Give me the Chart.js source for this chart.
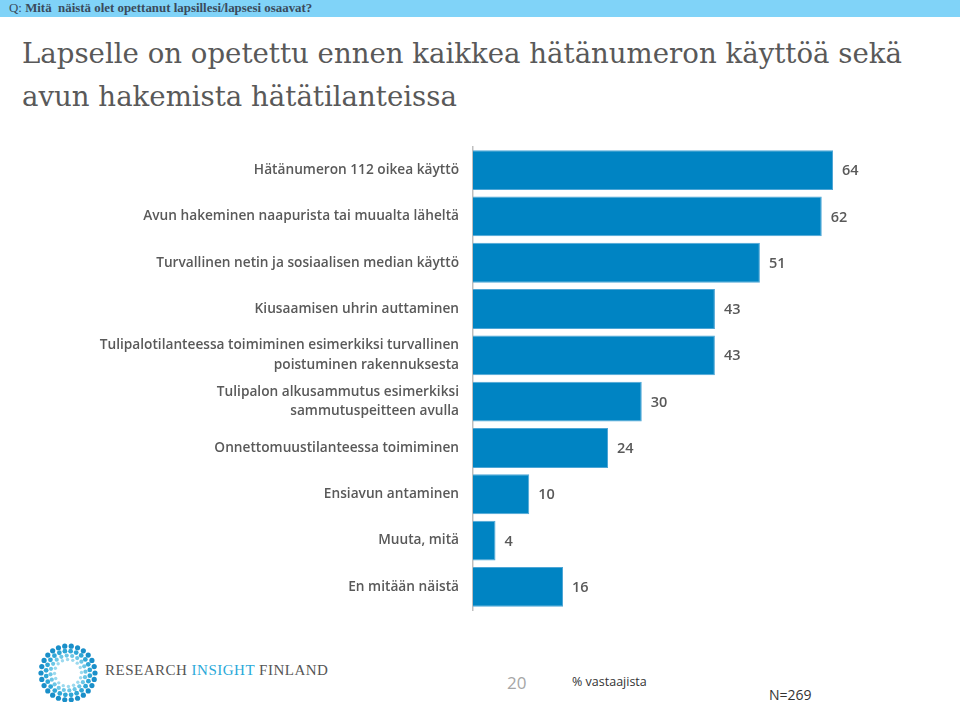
<!DOCTYPE html>
<html>
<head>
<meta charset="utf-8">
<script src="https://cdn.jsdelivr.net/npm/chart.js@4"></script>
<style>
  html, body { margin:0; padding:0; background:#fff; width:960px; height:702px; overflow:hidden; position:relative; font-family:"Open Sans", sans-serif; }
  #qbar { position:absolute; left:0; top:0; width:960px; height:17px; background:#80d3f8; }
  #qtext { position:absolute; left:9px; top:1px; font-family:"Liberation Serif", serif; font-size:12.9px; color:#3a4b5c; line-height:15px; white-space:nowrap; }
  #qtext b { font-weight:bold; }
  #title { position:absolute; left:22px; top:32px; font-family:"DejaVu Serif", serif; font-size:27.6px; line-height:43px; color:#595959; white-space:nowrap; }
  #chartbox { position:absolute; left:0; top:123px; width:960px; height:511px; }
  #brand { position:absolute; left:105px; top:662px; font-family:"Liberation Serif", serif; font-size:15px; letter-spacing:0.5px; color:#555; white-space:nowrap; }
  #brand span { color:#2aa9d9; }
  #n20 { position:absolute; left:507px; top:671px; font-family:"Open Sans", sans-serif; font-size:17px; color:#a6a6a6; }
  #pct { position:absolute; left:572px; top:673px; font-family:"Open Sans", sans-serif; font-size:12.5px; color:#333; white-space:nowrap; }
  #nn { position:absolute; left:769px; top:685px; font-family:"Open Sans", sans-serif; font-size:14px; color:#333; }
  #logo { position:absolute; left:38px; top:643px; }
</style>
</head>
<body>
<div id="qbar"></div>
<div id="qtext">Q: <b>Mitä&nbsp; näistä olet opettanut lapsillesi/lapsesi osaavat?</b></div>
<div id="title">Lapselle on opetettu ennen kaikkea hätänumeron käyttöä sekä<br>avun hakemista hätätilanteissa</div>
<div id="chartbox"><canvas id="c"></canvas></div>
<svg id="logo" width="60" height="60" viewBox="0 0 60 60"></svg>
<div id="brand">RESEARCH <span>INSIGHT</span> FINLAND</div>
<div id="n20">20</div>
<div id="pct">% vastaajista</div>
<div id="nn">N=269</div>
<script>
const categories = [
  "Hätänumeron 112 oikea käyttö",
  "Avun hakeminen naapurista tai muualta läheltä",
  "Turvallinen netin ja sosiaalisen median käyttö",
  "Kiusaamisen uhrin auttaminen",
  ["Tulipalotilanteessa toimiminen esimerkiksi turvallinen", "poistuminen rakennuksesta"],
  ["Tulipalon alkusammutus esimerkiksi", "sammutuspeitteen avulla"],
  "Onnettomuustilanteessa toimiminen",
  "Ensiavun antaminen",
  "Muuta, mitä",
  "En mitään näistä"
];
const values = [64, 62, 51, 43, 43, 30, 24, 10, 4, 16];

// decorative logo (dots in rings)
(function(){
  const svg = document.getElementById('logo');
  const rings = [[27,26,'#1a8fc9',2.6],[22,24,'#2fa6d6',2.4],[17.5,20,'#6cc6e6',2.1],[13.5,16,'#9bd9ee',1.7]];
  let html = '';
  rings.forEach(([r,n,col,s],k)=>{
    for(let i=0;i<n;i++){
      const a = (i/n)*Math.PI*2 + k*0.12;
      const cx = 30 + r*Math.cos(a), cy = 30 + r*Math.sin(a);
      html += `<circle cx="${cx.toFixed(2)}" cy="${cy.toFixed(2)}" r="${s}" fill="${col}"/>`;
    }
  });
  svg.innerHTML = html;
})();

const valueLabels = {
  id: 'valueLabels',
  afterDatasetsDraw(chart) {
    const ctx = chart.ctx;
    const meta = chart.getDatasetMeta(0);
    ctx.save();
    ctx.font = '600 14.5px "Open Sans", sans-serif';
    ctx.fillStyle = '#595959';
    ctx.textAlign = 'left';
    ctx.textBaseline = 'middle';
    meta.data.forEach((bar, i) => {
      ctx.fillText(String(chart.data.datasets[0].data[i]), bar.x + 9, bar.y + 1);
    });
    ctx.restore();
  }
};

new Chart(document.getElementById('c'), {
  type: 'bar',
  data: {
    labels: categories,
    datasets: [{
      data: values,
      backgroundColor: '#0084c3',
      borderColor: '#4ea6d6',
      borderWidth: 1,
      barPercentage: 0.86,
      categoryPercentage: 1.0
    }]
  },
  options: {
    indexAxis: 'y',
    responsive: true,
    maintainAspectRatio: false,
    animation: false,
    layout: { padding: { top: 0, bottom: 0, left: 0, right: 37 } },
    plugins: { legend: { display: false }, tooltip: { enabled: false } },
    scales: {
      x: { display: false, min: 0, max: 80 },
      y: {
        afterFit(scale) { scale.width = 473; },
        grid: { display: false, drawTicks: false },
        border: { display: true, color: '#bfbfbf', width: 1.5 },
        ticks: {
          color: '#595959',
          padding: 14,
          font: { family: '"Open Sans", sans-serif', size: 13.7, weight: '600', lineHeight: 1.45 }
        }
      }
    }
  },
  plugins: [valueLabels]
});
</script>
</body>
</html>
